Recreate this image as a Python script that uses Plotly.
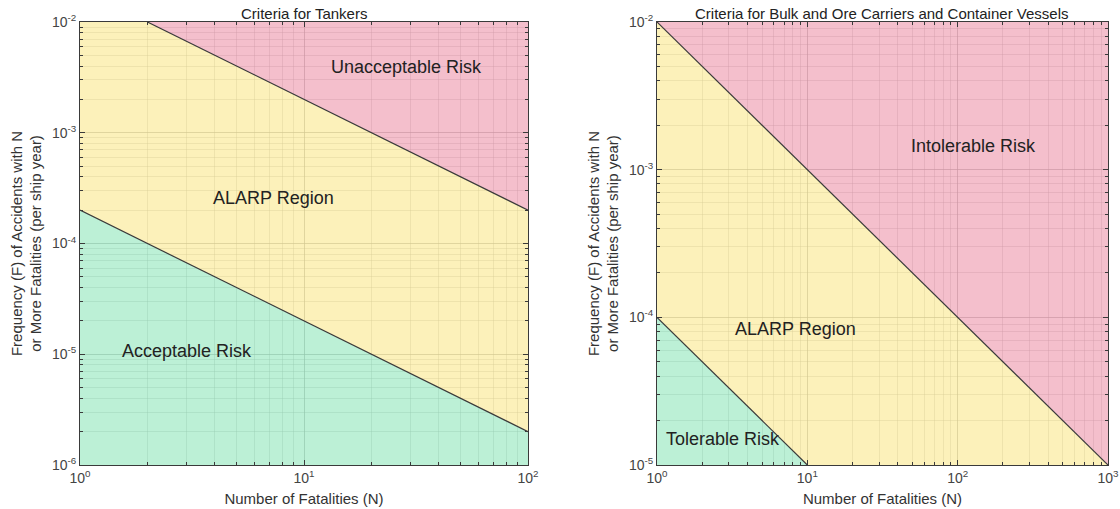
import plotly.graph_objects as go
import math

# ---- data ----
# Tankers criteria (F = C / N)
tank_upper_C = 2e-2   # unacceptable boundary constant
tank_lower_C = 2e-4   # acceptable boundary constant
tank_xrange = [1, 100]
tank_yrange = [1e-6, 1e-2]

# Bulk / ore / container criteria
bulk_upper_C = 1e-2
bulk_lower_C = 1e-4
bulk_xrange = [1, 1000]
bulk_yrange = [1e-5, 1e-2]

tank_labels = ["Unacceptable Risk", "ALARP Region", "Acceptable Risk"]
tank_label_x = [28.8, 7.3, 3.0]
tank_label_y = [3.9e-3, 2.6e-4, 1.07e-5]

bulk_labels = ["Intolerable Risk", "ALARP Region", "Tolerable Risk"]
bulk_label_x = [128, 8.4, 2.75]
bulk_label_y = [1.45e-3, 8.4e-5, 1.5e-5]

titles = ["Criteria for Tankers", "Criteria for Bulk and Ore Carriers and Container Vessels"]

# ---- style ----
PINK = "rgba(239,164,182,0.7)"
YELLOW = "rgba(251,235,156,0.7)"
GREEN = "rgba(159,233,196,0.7)"
LINE = "#3a3a3a"
FONT = "Liberation Sans, Arial, sans-serif"


def boundary(C, xr, yr):
    """Segment of F=C/N clipped to the axis box."""
    x0, x1 = xr
    y0, y1 = yr
    xa = max(x0, C / y1)
    xb = min(x1, C / y0)
    return [xa, xb], [C / xa, C / xb]


def regions(upC, loC, xr, yr, xa, ya):
    traces = []
    ux, uy = boundary(upC, xr, yr)
    lx, ly = boundary(loC, xr, yr)
    x0, x1 = xr
    y0, y1 = yr
    # upper (red) region
    if ux[1] < x1:
        px = [ux[0], ux[1], x1, x1, ux[0]]
        py = [uy[0], uy[1], y0, y1, uy[0]]
    else:
        px = [ux[0], ux[1], x1, ux[0]]
        py = [uy[0], uy[1], y1, uy[0]]
    traces.append(go.Scatter(x=px, y=py, fill="toself", fillcolor=PINK, mode="none",
                             xaxis=xa, yaxis=ya, hoverinfo="skip"))
    # middle (yellow) region
    mx = [x0, ux[0], ux[1], lx[1], lx[0], x0]
    my = [y1, uy[0], uy[1], ly[1], ly[0], y1]
    traces.append(go.Scatter(x=mx, y=my, fill="toself", fillcolor=YELLOW, mode="none",
                             xaxis=xa, yaxis=ya, hoverinfo="skip"))
    # lower (green) region
    gx = [x0, lx[0], lx[1], lx[1], x0]
    gy = [y0, ly[0], ly[1], y0, y0]
    traces.append(go.Scatter(x=gx, y=gy, fill="toself", fillcolor=GREEN, mode="none",
                             xaxis=xa, yaxis=ya, hoverinfo="skip"))
    # boundary lines
    for bx, by in [(ux, uy), (lx, ly)]:
        traces.append(go.Scatter(x=bx, y=by, mode="lines", line=dict(color=LINE, width=1.2),
                                 xaxis=xa, yaxis=ya, hoverinfo="skip"))
    return traces


fig = go.Figure()
for t in regions(tank_upper_C, tank_lower_C, tank_xrange, tank_yrange, "x", "y"):
    fig.add_trace(t)
for t in regions(bulk_upper_C, bulk_lower_C, bulk_xrange, bulk_yrange, "x2", "y2"):
    fig.add_trace(t)


def powticks(lo, hi):
    a, b = int(round(math.log10(lo))), int(round(math.log10(hi)))
    vals = [10.0 ** k for k in range(a, b + 1)]
    text = ["10<sup>%d</sup>" % k for k in range(a, b + 1)]
    return vals, text


def common(r, dom):
    tv, tt = powticks(*r)
    return dict(type="log", range=[math.log10(r[0]), math.log10(r[1])], domain=dom,
                tickvals=tv, ticktext=tt, ticks="inside", ticklen=5, tickcolor=LINE,
                showline=True, linecolor=LINE, linewidth=1, mirror="allticks",
                showgrid=True, gridcolor="rgba(120,120,120,0.55)", gridwidth=1,
                minor=dict(dtick="D1", ticks="inside", ticklen=3, tickcolor=LINE,
                           showgrid=True, gridcolor="rgba(120,120,120,0.35)", gridwidth=1),
                zeroline=False, tickfont=dict(size=14, color="#444"), automargin=False)


def xaxis_cfg(xr, dom, anchor):
    d = common(xr, dom)
    d.update(anchor=anchor,
             title=dict(text="Number of Fatalities (N)", font=dict(size=15, color="#333"),
                        standoff=8))
    return d


def yaxis_cfg(yr, dom, anchor):
    d = common(yr, dom)
    d.update(anchor=anchor,
             title=dict(text="Frequency (F) of Accidents with N<br>or More Fatalities (per ship year)",
                        font=dict(size=15, color="#333"), standoff=6))
    return d


W, H = 1120, 509
ydom = [(H - 465) / H, (H - 22) / H]
fig.update_layout(
    width=W, height=H,
    margin=dict(l=0, r=0, t=0, b=0),
    paper_bgcolor="white", plot_bgcolor="white",
    showlegend=False,
    font=dict(family=FONT, color="#333"),
    xaxis=xaxis_cfg(tank_xrange, [80 / W, 528 / W], "y"),
    yaxis=yaxis_cfg(tank_yrange, ydom, "x"),
    xaxis2=xaxis_cfg(bulk_xrange, [657 / W, 1108 / W], "y2"),
    yaxis2=yaxis_cfg(bulk_yrange, ydom, "x2"),
)

ann = []
for txt, x, y in zip(tank_labels, tank_label_x, tank_label_y):
    ann.append(dict(text=txt, x=math.log10(x), y=math.log10(y), xref="x", yref="y",
                    showarrow=False, font=dict(size=18, color="#222")))
for txt, x, y in zip(bulk_labels, bulk_label_x, bulk_label_y):
    ann.append(dict(text=txt, x=math.log10(x), y=math.log10(y), xref="x2", yref="y2",
                    showarrow=False, font=dict(size=18, color="#222")))
for txt, cx in zip(titles, [304, 882]):
    ann.append(dict(text=txt, x=cx / W, y=(H - 13) / H, xref="paper", yref="paper",
                    xanchor="center", yanchor="middle",
                    showarrow=False, font=dict(size=15, color="#222")))
fig.update_layout(annotations=ann)

fig.write_html("out.html", config={"displayModeBar": False},
               post_script="document.body.style.margin='0px';document.body.style.overflow='hidden';")
